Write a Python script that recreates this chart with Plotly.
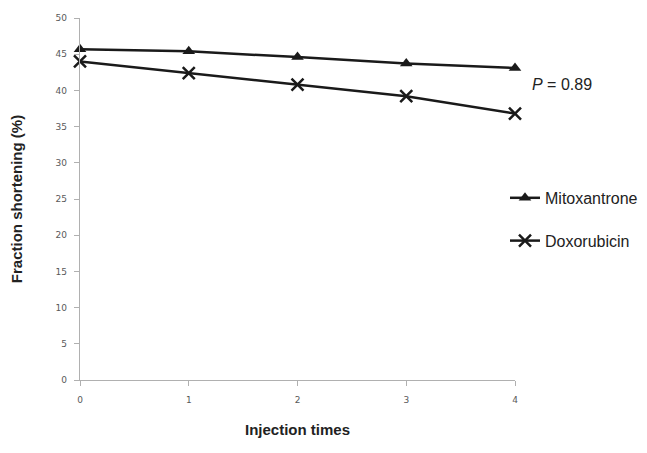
import plotly.graph_objects as go

injection_times = [0, 1, 2, 3, 4]
mitoxantrone = [45.7, 45.4, 44.6, 43.7, 43.1]
doxorubicin = [44.0, 42.4, 40.8, 39.2, 36.8]
y_ticks = [0, 5, 10, 15, 20, 25, 30, 35, 40, 45, 50]

fig = go.Figure()
fig.add_trace(go.Scatter(
    x=injection_times, y=mitoxantrone, name="Mitoxantrone", mode="lines+markers",
    line=dict(color="#1a1a1a", width=2.5),
    marker=dict(symbol="triangle-up", size=11, color="#1a1a1a"),
    legendgroup="m", cliponaxis=False))
fig.add_trace(go.Scatter(
    x=injection_times, y=doxorubicin, name="Doxorubicin", mode="lines+markers",
    line=dict(color="#1a1a1a", width=2.5),
    marker=dict(symbol="x-thin-open", size=12, color="#1a1a1a",
                line=dict(width=2.5, color="#1a1a1a")),
    legendgroup="d", cliponaxis=False))

fig.add_annotation(x=4, y=40.8, xref="x", yref="y", text="<i>P</i> = 0.89",
                   showarrow=False, xanchor="left", xshift=15,
                   font=dict(family="Liberation Sans, Arial", size=16, color="#222"))

axis_common = dict(showgrid=False, zeroline=False, showline=True, linecolor="#b0b0b0",
                   linewidth=1.3, ticks="outside", tickcolor="#b0b0b0", ticklen=5,
                   automargin=False,
                   tickfont=dict(family="DejaVu Sans, Verdana", size=9, color="#595959"))

fig.update_layout(
    width=647, height=453,
    margin=dict(l=72, r=140, t=10, b=81),
    paper_bgcolor="white", plot_bgcolor="white",
    xaxis=dict(range=[0, 4], tickvals=injection_times, ticklabelstandoff=6, **axis_common,
               title=dict(text="<b>Injection times</b>", standoff=20,
                          font=dict(family="Liberation Sans, Arial", size=15, color="#222"))),
    yaxis=dict(range=[0, 50], tickvals=y_ticks, ticklabelstandoff=5, **axis_common,
               title=dict(text="<b>Fraction shortening (%)</b>", standoff=30,
                          font=dict(family="Liberation Sans, Arial", size=15, color="#222"))),
    legend=dict(x=0.977, y=0.55, xanchor="left", yanchor="top", tracegroupgap=19,
                font=dict(family="Liberation Sans, Arial", size=16, color="#222"),
                bgcolor="rgba(0,0,0,0)", itemwidth=30),
    showlegend=True,
)

fig.write_html("out.html")
